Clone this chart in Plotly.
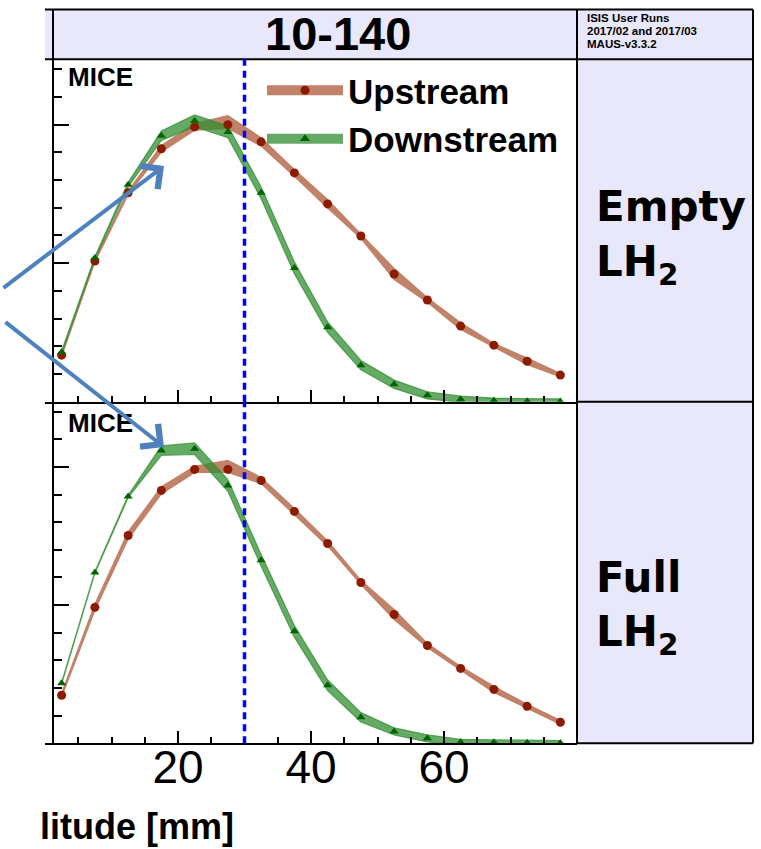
import numpy as np
import plotly.graph_objects as go

W, H = 761, 849

# ---------------- data ----------------
amplitude = [2.5, 7.5, 12.5, 17.5, 22.5, 27.5, 32.5, 37.5,
             42.5, 47.5, 52.5, 57.5, 62.5, 67.5, 72.5, 77.5]

empty_up = [0.0168, 0.0508, 0.0754, 0.0913, 0.0992, 0.1000, 0.0938, 0.0826,
            0.0714, 0.0598, 0.0461, 0.0367, 0.0273, 0.0204, 0.0146, 0.0096]
empty_up_err_hi = [0.0004, 0.0004, 0.0006, 0.0012, 0.0012, 0.0033, 0.0015, 0.0012,
                   0.0015, 0.0008, 0.0020, 0.0008, 0.0012, 0.0006, 0.0012, 0.0006]
empty_up_err_lo = [0.0004, 0.0004, 0.0006, 0.0012, 0.0012, 0.0014, 0.0015, 0.0012,
                   0.0015, 0.0008, 0.0020, 0.0008, 0.0012, 0.0006, 0.0012, 0.0006]

empty_dn = [0.0179, 0.0519, 0.0783, 0.0960, 0.1014, 0.0974, 0.0754, 0.0483,
            0.0269, 0.0132, 0.0063, 0.0023, 0.0009, 0.0004, 0.0002, 0.0001]
empty_dn_err = [0.0004, 0.0004, 0.0008, 0.0017, 0.0021, 0.0021, 0.0021, 0.0021,
                0.0019, 0.0017, 0.0015, 0.0013, 0.0011, 0.0009, 0.0009, 0.0009]

full_up = [0.0174, 0.0492, 0.0752, 0.0915, 0.0991, 0.0991, 0.0951, 0.0839,
           0.0723, 0.0582, 0.0466, 0.0354, 0.0271, 0.0195, 0.0134, 0.0076]
full_up_err_hi = [0.0007, 0.0011, 0.0013, 0.0013, 0.0011, 0.0033, 0.0011, 0.0011,
                  0.0009, 0.0007, 0.0018, 0.0007, 0.0007, 0.0011, 0.0007, 0.0007]
full_up_err_lo = [0.0007, 0.0011, 0.0013, 0.0013, 0.0011, 0.0011, 0.0011, 0.0011,
                  0.0009, 0.0007, 0.0018, 0.0007, 0.0007, 0.0011, 0.0007, 0.0007]

full_dn = [0.0217, 0.0618, 0.0893, 0.1059, 0.1066, 0.0933, 0.0662, 0.0405,
           0.0210, 0.0094, 0.0043, 0.0018, 0.0005, 0.0004, 0.0002, 0.0001]
full_dn_err = [0.0003, 0.0003, 0.0004, 0.0017, 0.0021, 0.0021, 0.0021, 0.0021,
               0.0019, 0.0017, 0.0013, 0.0013, 0.0009, 0.0009, 0.0009, 0.0009]

cut_amplitude = 30
x_tick_labels = [20, 40, 60]
title_text = "10-140"
info_lines = ["ISIS User Runs", "2017/02 and 2017/03", "MAUS-v3.3.2"]
panel_labels = [("Empty", "LH<sub>2</sub>"), ("Full", "LH<sub>2</sub>")]
series_names = ["Upstream", "Downstream"]

# ---------------- style ----------------
UP_BAND = "rgb(192,130,104)"
UP_MARK = "rgb(140,28,0)"
DN_BAND = "rgba(50,142,50,0.75)"
DN_MARK = "rgb(0,100,0)"
LAV = "#E8E8FA"
ARIAL = "Liberation Sans, Arial, sans-serif"
WIDE = "DejaVu Sans, Verdana, sans-serif"
YMAX = 0.1236


def px(x):
    return x / W


def py(y):
    return 1 - y / H


fig = go.Figure()


def band(xs, ys, lo, hi, color, xa, ya):
    xs = np.array(xs, float)
    ys = np.array(ys, float)
    upper = ys + np.array(hi, float)
    lower = ys - np.array(lo, float)
    fig.add_trace(go.Scatter(
        x=np.concatenate([xs, xs[::-1]]),
        y=np.concatenate([upper, lower[::-1]]),
        fill="toself", fillcolor=color, mode="lines",
        line=dict(color=color, width=1.2),
        xaxis=xa, yaxis=ya, showlegend=False, hoverinfo="skip"))


panels = [
    ("x", "y", empty_up, empty_up_err_lo, empty_up_err_hi, empty_dn, empty_dn_err),
    ("x2", "y2", full_up, full_up_err_lo, full_up_err_hi, full_dn, full_dn_err),
]
for xa, ya, up, up_lo, up_hi, dn, dn_err in panels:
    band(amplitude, up, up_lo, up_hi, UP_BAND, xa, ya)
    band(amplitude, dn, dn_err, dn_err, DN_BAND, xa, ya)
    fig.add_trace(go.Scatter(x=amplitude, y=up, mode="markers",
                             marker=dict(symbol="circle", size=9, color=UP_MARK),
                             xaxis=xa, yaxis=ya, showlegend=False))
    fig.add_trace(go.Scatter(x=amplitude, y=dn, mode="markers",
                             marker=dict(symbol="triangle-up", size=8, color=DN_MARK),
                             xaxis=xa, yaxis=ya, showlegend=False))

# legend entries
fig.add_trace(go.Scatter(x=[None], y=[None], mode="lines+markers", name=series_names[0],
                         line=dict(color=UP_BAND, width=11),
                         marker=dict(symbol="circle", size=9, color=UP_MARK)))
fig.add_trace(go.Scatter(x=[None], y=[None], mode="lines+markers", name=series_names[1],
                         line=dict(color="rgb(102,168,102)", width=11),
                         marker=dict(symbol="triangle-up", size=9, color=DN_MARK)))

x_dom = [px(45), px(577)]
top_dom = [py(401.7), py(59.3)]
bot_dom = [py(743.3), py(401.7)]

common_x = dict(range=[0, 80], domain=x_dom, showline=True, linecolor="black", linewidth=2,
                ticks="inside", ticklen=12, tickwidth=2, tickcolor="black",
                tickvals=x_tick_labels, showgrid=False, zeroline=False,
                minor=dict(dtick=5, ticklen=6, tickwidth=2, tickcolor="black", ticks="inside"))
common_y = dict(range=[0, YMAX], showline=True, linecolor="black", linewidth=2,
                ticks="inside", ticklen=15, tickwidth=2, tickcolor="black",
                dtick=0.05, tick0=0, showgrid=False, zeroline=False, showticklabels=False,
                anchor="free", position=px(53),
                minor=dict(dtick=0.01, ticklen=8, tickwidth=2, tickcolor="black", ticks="inside"))

fig.update_layout(
    width=W, height=H, margin=dict(l=0, r=0, t=0, b=0),
    paper_bgcolor="white", plot_bgcolor="white",
    xaxis=dict(common_x, anchor="y", showticklabels=False),
    yaxis=dict(common_y, domain=top_dom),
    xaxis2=dict(common_x, anchor="y2", showticklabels=True, ticklabelstandoff=-18,
                tickfont=dict(family=ARIAL, size=46, color="black")),
    yaxis2=dict(common_y, domain=bot_dom),
    showlegend=True,
    legend=dict(x=px(262), y=py(61), xanchor="left", yanchor="top",
                bgcolor="rgba(0,0,0,0)", itemwidth=76, tracegroupgap=0,
                font=dict(family=ARIAL, size=35, color="black", weight="bold")),
)

shapes = []
# lavender header and right column
shapes.append(dict(type="rect", xref="paper", yref="paper", x0=px(45), x1=px(753),
                   y0=py(59.3), y1=py(9.5), fillcolor=LAV, line=dict(width=0), layer="below"))
shapes.append(dict(type="rect", xref="paper", yref="paper", x0=px(577), x1=px(753),
                   y0=py(743.3), y1=py(59.3), fillcolor=LAV, line=dict(width=0), layer="below"))


def pline(x0, y0, x1, y1, w=2):
    shapes.append(dict(type="line", xref="paper", yref="paper",
                       x0=px(x0), y0=py(y0), x1=px(x1), y1=py(y1),
                       line=dict(color="black", width=w)))


pline(45, 9.5, 753, 9.5)
pline(45, 59.3, 753, 59.3)
pline(577, 401.7, 753, 401.7)
pline(577, 743.3, 753, 743.3)
pline(577, 9.5, 577, 743.3)
pline(753, 9.5, 753, 743.3)
pline(53, 9.5, 53, 743.3)

# cut line
for xa, ya in [("x", "y"), ("x2", "y2")]:
    shapes.append(dict(type="line", xref=xa, yref=ya + " domain",
                       x0=cut_amplitude, x1=cut_amplitude, y0=0, y1=1,
                       line=dict(color="blue", width=3.5, dash="7px,5px")))
fig.update_layout(shapes=shapes)

ann = []
ann.append(dict(xref="paper", yref="paper", x=px(338), y=py(34), text=title_text,
                showarrow=False, xanchor="center", yanchor="middle",
                font=dict(family=ARIAL, size=47, color="black", weight="bold")))
for i, t in enumerate(info_lines):
    ann.append(dict(xref="paper", yref="paper", x=px(585), y=py(18 + 13 * i), text=t,
                    showarrow=False, xanchor="left", yanchor="middle",
                    font=dict(family=ARIAL, size=11.5, color="black", weight="bold")))
for ycen in [77, 423]:
    ann.append(dict(xref="paper", yref="paper", x=px(66), y=py(ycen), text="MICE",
                    showarrow=False, xanchor="left", yanchor="middle",
                    font=dict(family=ARIAL, size=26, color="black", weight="bold")))
for (l1, l2), (y1, y2) in zip(panel_labels, [(207, 264), (577, 634)]):
    ann.append(dict(xref="paper", yref="paper", x=px(594), y=py(y1), text=l1,
                    showarrow=False, xanchor="left", yanchor="middle",
                    font=dict(family=WIDE, size=42, color="black", weight="bold")))
    ann.append(dict(xref="paper", yref="paper", x=px(594), y=py(y2), text=l2,
                    showarrow=False, xanchor="left", yanchor="middle",
                    font=dict(family=WIDE, size=42, color="black", weight="bold")))
# x-axis title: the reference image is cropped so only "litude [mm]" shows
ann.append(dict(xref="paper", yref="paper", x=px(236), y=py(826),
                text="<span style='color:white'>Amp</span>litude [mm]",
                showarrow=False, xanchor="right", yanchor="middle",
                font=dict(family=ARIAL, size=36, color="black", weight="bold")))
# pointer arrows
for (hx, hy), (tx, ty) in [((164, 166), (2, 289)), ((164, 447), (4, 321))]:
    ann.append(dict(xref="paper", yref="paper", x=px(hx), y=py(hy), text="",
                    showarrow=True, ax=tx - hx, ay=ty - hy, axref="pixel", ayref="pixel",
                    arrowhead=4, arrowsize=1.4, arrowwidth=4,
                    arrowcolor="rgb(79,129,189)"))
fig.update_layout(annotations=ann)

fig.write_html("out.html")
